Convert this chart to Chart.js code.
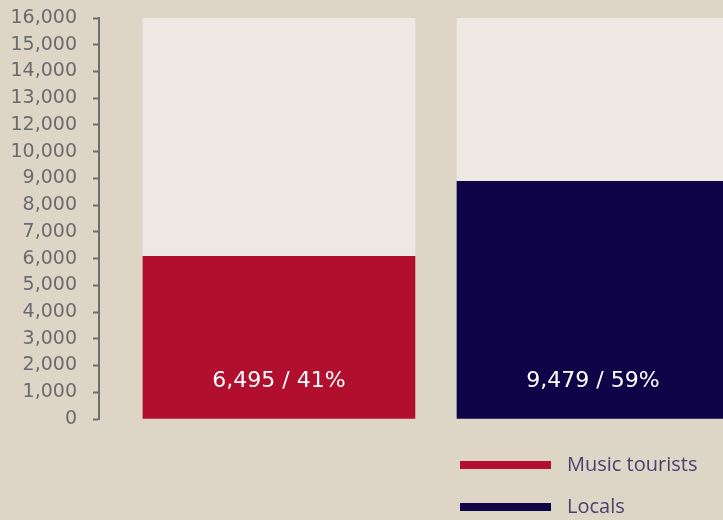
<!DOCTYPE html>
<html>
<head>
<meta charset="utf-8">
<script src="https://cdn.jsdelivr.net/npm/chart.js@4"></script>
<style>
    html, body { margin: 0; padding: 0; background: #ddd5c6; overflow: hidden; }
    .wrap { position: relative; width: 723px; height: 520px; }
    .legend { position: absolute; left: 460px; top: 442px; font-family: 'Open Sans', sans-serif; font-size: 20px; color: #4a416f; }
    .legend-row { display: flex; align-items: center; height: 42px; }
    .legend-swatch { width: 91px; height: 8px; margin-right: 16px; margin-top: 4px; }
</style>
</head>
<body>
<div class="wrap">
    <canvas id="visitorsChart" width="723" height="520"></canvas>
    <div class="legend" id="legend"></div>
</div>
<script>
// Visitors split: music tourists vs locals
const categories = ['Music tourists', 'Locals'];
const visitors = [6495, 9479];
const barColors = ['#b20e2d', '#0f0448'];
const yMax = 16000;
const yTickLabels = ['0', '1,000', '2,000', '3,000', '4,000', '5,000', '6,000', '7,000', '8,000',
    '9,000', '10,000', '12,000', '13,000', '14,000', '15,000', '16,000'];

const total = visitors.reduce((a, b) => a + b, 0);

// white "value / share" label near the bottom of each coloured bar
const barLabels = {
    id: 'barLabels',
    afterDatasetsDraw(chart) {
        const { ctx } = chart;
        const meta = chart.getDatasetMeta(0);
        ctx.save();
        ctx.fillStyle = '#ffffff';
        ctx.font = '22px "DejaVu Sans", sans-serif';
        ctx.textAlign = 'center';
        ctx.textBaseline = 'middle';
        meta.data.forEach((bar, i) => {
            const v = visitors[i];
            const pct = Math.round(v / total * 100);
            const text = v.toLocaleString('en-US') + ' / ' + pct + '%';
            ctx.fillText(text, bar.x, bar.base - 37);
        });
        ctx.restore();
    }
};

const ctx = document.getElementById('visitorsChart');
new Chart(ctx, {
    type: 'bar',
    data: {
        datasets: [
            {
                label: 'share',
                data: visitors.map((v, i) => ({ x: i + 1, y: v })),
                backgroundColor: barColors,
                borderWidth: 0,
                barThickness: 272
            },
            {
                label: 'rest',
                data: visitors.map((v, i) => ({ x: i + 1, y: yMax - v })),
                backgroundColor: '#ede8e1',
                borderWidth: 0,
                barThickness: 272
            }
        ]
    },
    options: {
        responsive: false,
        animation: false,
        layout: { padding: { top: 18, bottom: 101, left: 0, right: 0 } },
        plugins: {
            legend: { display: false },
            tooltip: { enabled: false }
        },
        scales: {
            x: {
                type: 'linear',
                stacked: true,
                offset: false,
                min: 0.427,
                max: 2.414,
                display: false
            },
            y: {
                stacked: true,
                min: 0,
                max: yMax,
                afterFit(scale) {
                    scale.width = 99;
                    scale.paddingTop = 0;
                    scale.paddingBottom = 0;
                },
                afterBuildTicks(scale) {
                    scale.ticks = yTickLabels.map((_, i) => ({ value: i * yMax / (yTickLabels.length - 1) }));
                },
                border: { display: true, color: '#6e6e70', width: 2 },
                grid: {
                    drawOnChartArea: false,
                    tickLength: 6,
                    tickWidth: 2,
                    tickColor: '#6e6e70'
                },
                ticks: {
                    padding: 16,
                    color: '#6b6b6e',
                    font: { family: '"DejaVu Sans", sans-serif', size: 19 },
                    callback: (value, index) => yTickLabels[index]
                }
            }
        }
    },
    plugins: [barLabels]
});

// legend rows with long line swatches
const legend = document.getElementById('legend');
categories.forEach((name, i) => {
    const row = document.createElement('div');
    row.className = 'legend-row';
    row.innerHTML = `<span class="legend-swatch" style="background:${barColors[i]}"></span><span>${name}</span>`;
    legend.appendChild(row);
});
</script>
</body>
</html>
